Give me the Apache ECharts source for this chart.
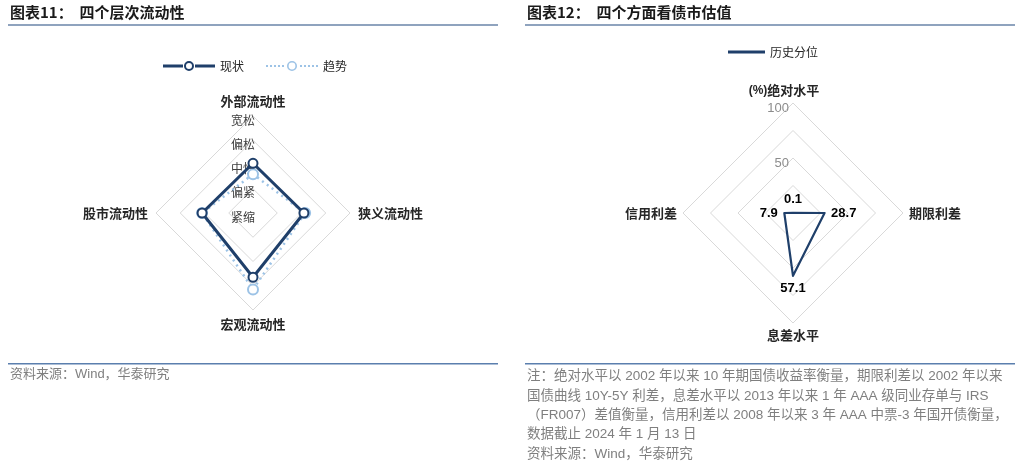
<!DOCTYPE html>
<html><head><meta charset="utf-8">
<script src="https://cdn.jsdelivr.net/npm/echarts@6/dist/echarts.min.js"></script>
<style>html,body{margin:0;padding:0;background:#fff}#c{width:1024px;height:471px}</style>
</head><body><div id="c"></div>
<script>
// ---- data ----
const liqIndicators = ['外部流动性', '股市流动性', '宏观流动性', '狭义流动性'];
const liqLevels = ['紧缩', '偏紧', '中性', '偏松', '宽松'];
const liqCurrent = [2.05, 2.1, 2.65, 2.1];
const liqTrend = [1.6, 2.1, 3.15, 2.15];
const valIndicators = ['绝对水平', '信用利差', '息差水平', '期限利差'];
const valPercentile = [0.1, 7.9, 57.1, 28.7];
const valTickLabels = [50, 100];

const CJK = '"Noto Sans CJK SC", "Liberation Sans", sans-serif';
const MIX = '"Liberation Sans", "Noto Sans CJK SC", sans-serif';
const NAVY = '#1f3f6a';
const LIGHT = '#9dc3e6';
const labelPositions = ['top', 'left', 'bottom', 'right'];

const curIcon = 'path://M0,3.6L20,3.6L20,6.4L0,6.4Z M32,3.6L52,3.6L52,6.4L32,6.4Z M21,5A5,5 0 1 1 31,5A5,5 0 1 1 21,5Z M23,5A3,3 0 1 0 29,5A3,3 0 1 0 23,5Z M0,0L0.01,0L0.01,0.01Z M0,10L0.01,10L0.01,9.99Z';
let tr = '';
[0, 4, 8, 12, 16, 34, 38, 42, 46, 50].forEach(x => { tr += 'M' + x + ',4L' + (x + 2) + ',4L' + (x + 2) + ',6L' + x + ',6Z '; });
const trendIcon = 'path://' + tr + 'M21,5A5,5 0 1 1 31,5A5,5 0 1 1 21,5Z M22.6,5A3.4,3.4 0 1 0 29.4,5A3.4,3.4 0 1 0 22.6,5Z M0,0L0.01,0L0.01,0.01Z M0,10L0.01,10L0.01,9.99Z';

const chart = echarts.init(document.getElementById('c'), null, {renderer: 'canvas'});

const labelSeries = valPercentile.map((target, k) => ({
  type: 'radar', radarIndex: 1, silent: true, z: 5,
  symbol: 'circle', symbolSize: 1,
  itemStyle: {color: 'rgba(0,0,0,0)'},
  lineStyle: {width: 0, opacity: 0},
  label: {
    show: true, position: labelPositions[k], distance: 6,
    color: '#000', fontWeight: 'bold', fontSize: 13, fontFamily: '"Liberation Sans", Arial, sans-serif',
    formatter: p => (!Array.isArray(p.value) && Number(p.value) === target) ? String(target) : ''
  },
  data: [{value: valPercentile, name: 'lbl' + k}]
}));

chart.setOption({
  animation: false,
  backgroundColor: '#fff',
  legend: [
    {
      left: 158, top: 55, itemWidth: 52, itemHeight: 10, itemGap: 22, selectedMode: false,
      textStyle: {fontSize: 12, color: '#262626', fontFamily: CJK},
      data: [
        {name: '现状', icon: curIcon, itemStyle: {color: NAVY, borderWidth: 0}},
        {name: '趋势', icon: trendIcon, itemStyle: {color: LIGHT, borderWidth: 0}}
      ]
    },
    {
      left: 723, top: 41, itemWidth: 37, itemHeight: 3, selectedMode: false,
      textStyle: {fontSize: 12, color: '#262626', fontFamily: CJK},
      data: [{name: '历史分位', icon: 'rect', itemStyle: {color: NAVY, borderWidth: 0}}]
    }
  ],
  radar: [
    {
      center: [253, 213], radius: 97, startAngle: 90, shape: 'polygon', splitNumber: 4,
      indicator: liqIndicators.map((n, i) => i === 0
        ? {name: n, min: 0, max: 4, axisLabel: {show: true}}
        : {name: n, min: 0, max: 4}),
      axisName: {color: '#262626', fontSize: 13, fontWeight: 'bold', fontFamily: CJK},
      nameGap: 8,
      splitLine: {lineStyle: {color: '#d9d9d9', width: 1}},
      splitArea: {show: false},
      axisLine: {show: false},
      axisTick: {show: false},
      axisLabel: {show: false, margin: -2,
        formatter: v => '{a|' + (liqLevels[Math.round(v)] || '') + '}',
        rich: {a: {color: '#404040', fontSize: 12, fontFamily: CJK, padding: [8, 0, 0, 0]}}}
    },
    {
      center: [793, 213], radius: 110, startAngle: 90, shape: 'polygon', splitNumber: 4,
      indicator: valIndicators.map((n, i) => i === 0
        ? {name: n, min: 0, max: 100, axisLabel: {show: true}}
        : {name: n, min: 0, max: 100}),
      axisName: {color: '#262626', fontSize: 13, fontWeight: 'bold', fontFamily: CJK,
        formatter: v => v === valIndicators[0] ? '{u|(%)}' + v + '{p|}' : v,
        rich: {u: {fontSize: 12, fontFamily: '"Liberation Sans", Arial, sans-serif', color: '#262626', fontWeight: 'bold'}, p: {width: 18}}},
      nameGap: 6,
      splitLine: {lineStyle: {color: '#d9d9d9', width: 1}},
      splitArea: {show: false},
      axisLine: {show: false},
      axisTick: {show: false},
      axisLabel: {show: false, margin: 4,
        formatter: v => valTickLabels.indexOf(Math.round(v)) >= 0 ? '{a|' + Math.round(v) + '}' : '',
        rich: {a: {color: '#8c8c8c', fontSize: 13, fontFamily: '"Liberation Sans", Arial, sans-serif', padding: [10, 0, 0, 0]}}}
    }
  ],
  series: [
    {
      type: 'radar', radarIndex: 0, z: 2,
      symbol: 'emptyCircle', symbolSize: 10,
      lineStyle: {color: LIGHT, width: 2.5, type: [2, 4]},
      itemStyle: {color: LIGHT, borderColor: LIGHT, borderWidth: 2},
      data: [{value: liqTrend, name: '趋势'}]
    },
    {
      type: 'radar', radarIndex: 0, z: 3,
      symbol: 'emptyCircle', symbolSize: 9,
      lineStyle: {color: NAVY, width: 3},
      itemStyle: {color: NAVY, borderColor: NAVY, borderWidth: 2},
      data: [{value: liqCurrent, name: '现状'}]
    },
    {
      type: 'radar', radarIndex: 1, z: 3,
      symbol: 'none',
      lineStyle: {color: NAVY, width: 2.2},
      itemStyle: {color: NAVY},
      data: [{value: valPercentile, name: '历史分位'}]
    }
  ].concat(labelSeries),
  graphic: [
    {type: 'text', left: 10, top: 5, style: {text: '图表11：  四个层次流动性', font: 'bold 15px ' + CJK, fill: '#1a1a1a'}},
    {type: 'rect', shape: {x: 8, y: 24, width: 490, height: 2}, style: {fill: '#8fa3be'}},
    {type: 'text', left: 527, top: 5, style: {text: '图表12：  四个方面看债市估值', font: 'bold 15px ' + CJK, fill: '#1a1a1a'}},
    {type: 'rect', shape: {x: 525, y: 24, width: 490, height: 2}, style: {fill: '#8fa3be'}},
    {type: 'rect', shape: {x: 8, y: 363, width: 490, height: 1.5}, style: {fill: '#5b7fae'}},
    {type: 'rect', shape: {x: 525, y: 363, width: 490, height: 1.5}, style: {fill: '#5b7fae'}},
    {type: 'text', left: 10, top: 368, style: {text: '资料来源：Wind，华泰研究', font: '13px ' + MIX, fill: '#7f7f7f'}},
    {type: 'text', left: 527, top: 367, style: {
      text: '注：绝对水平以 2002 年以来 10 年期国债收益率衡量，期限利差以 2002 年以来\n国债曲线 10Y-5Y 利差，息差水平以 2013 年以来 1 年 AAA 级同业存单与 IRS\n（FR007）差值衡量，信用利差以 2008 年以来 3 年 AAA 中票-3 年国开债衡量，\n数据截止 2024 年 1 月 13 日\n资料来源：Wind，华泰研究',
      font: '13.5px ' + MIX, fill: '#7f7f7f', lineHeight: 19.3}}
  ]
});
</script>
</body></html>
